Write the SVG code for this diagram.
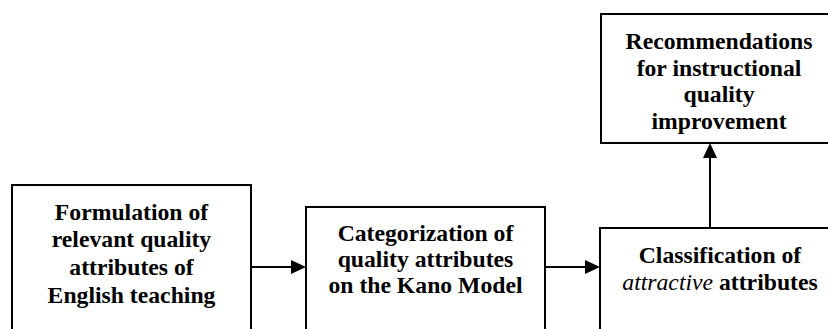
<svg xmlns="http://www.w3.org/2000/svg" width="828" height="329" viewBox="0 0 828 329">
<style>
.box{fill:#fff;stroke:#000;stroke-width:2}
.t{font-family:'Liberation Serif','Times New Roman',serif;font-weight:700;font-size:23.7px;text-anchor:middle;fill:#000}
.conn{stroke:#000;stroke-width:2;fill:none}
.head{fill:#000}
</style>
<rect width="828" height="329" fill="#fff"/>
<g id="n1">
<rect class="box" x="12" y="185" width="239" height="160"/>
<text class="t" x="131.5" y="219.5">Formulation of</text>
<text class="t" x="131.5" y="247">relevant quality</text>
<text class="t" x="131.5" y="275">attributes of</text>
<text class="t" x="131.5" y="303">English teaching</text>
</g>
<g id="n2">
<rect class="box" x="306" y="207" width="239" height="140"/>
<text class="t" x="425.5" y="241">Categorization of</text>
<text class="t" x="425.5" y="267">quality attributes</text>
<text class="t" x="425.5" y="293">on the Kano Model</text>
</g>
<g id="n3">
<rect class="box" x="600" y="228" width="240" height="120"/>
<text class="t" x="720" y="263">Classification of</text>
<text class="t" x="720" y="290"><tspan font-style="italic" font-weight="normal">attractive</tspan> attributes</text>
</g>
<g id="n4">
<rect class="box" x="601" y="14" width="240" height="129"/>
<text class="t" x="719" y="49">Recommendations</text>
<text class="t" x="719" y="75.5">for instructional</text>
<text class="t" x="719" y="102">quality</text>
<text class="t" x="719" y="128.5">improvement</text>
</g>
<g id="connectors">
<line class="conn" x1="251" y1="267" x2="292" y2="267"/>
<polygon class="head" points="306,267 291,260 291,274"/>
<line class="conn" x1="545" y1="267" x2="586" y2="267"/>
<polygon class="head" points="600,267 585,260 585,274"/>
<line class="conn" x1="710" y1="228" x2="710" y2="157"/>
<polygon class="head" points="710,143 703,158 717,158"/>
</g>
</svg>
